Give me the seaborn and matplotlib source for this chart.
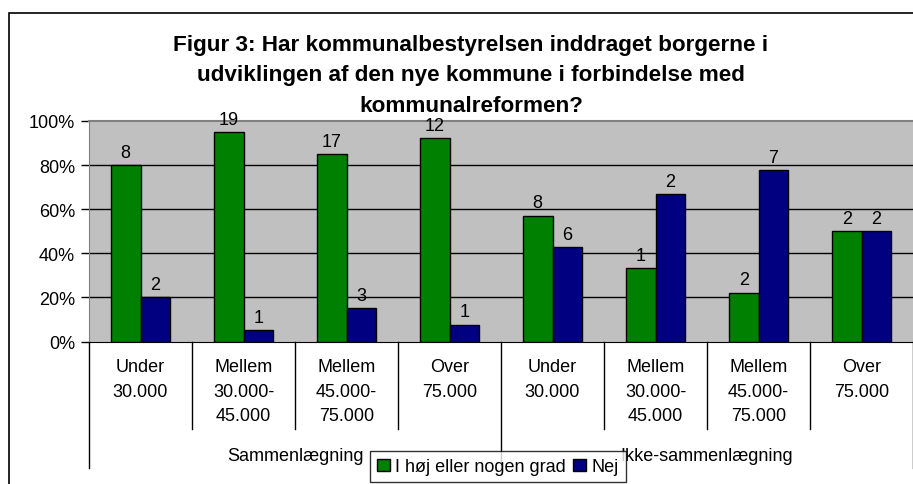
import pandas as pd
import matplotlib.pyplot as plt
import seaborn as sns
from matplotlib.patches import Patch, Rectangle
from matplotlib.lines import Line2D
from matplotlib.ticker import PercentFormatter

# --- Data ---
groups = ['Sammenlægning', 'Ikke-sammenlægning']
sizes = ['Under\n30.000', 'Mellem\n30.000-\n45.000', 'Mellem\n45.000-\n75.000', 'Over\n75.000']
series = ['I høj eller nogen grad', 'Nej']
title_lines = ['Figur 3: Har kommunalbestyrelsen inddraget borgerne i',
               'udviklingen af den nye kommune i forbindelse med',
               'kommunalreformen?']

# share of answers (bar height) and number of answers (label) per category
share_yes = [0.80, 0.95, 0.85, 0.923, 0.571, 0.333, 0.222, 0.50]
share_no = [0.20, 0.05, 0.15, 0.077, 0.429, 0.667, 0.778, 0.50]
count_yes = [8, 19, 17, 12, 8, 1, 2, 2]
count_no = [2, 1, 3, 1, 6, 2, 7, 2]

colors = ['#008000', '#000080']

# --- Build long table ---
cats = [f'{g}|{s}' for g in groups for s in sizes]
df = pd.DataFrame({
    'cat': cats * 2,
    'share': share_yes + share_no,
    'series': [series[0]] * len(cats) + [series[1]] * len(cats),
})

plt.rcParams['font.family'] = ['Liberation Sans', 'DejaVu Sans']
fs = 13

fig = plt.figure(figsize=(9.13, 4.85), dpi=100)
W, H = 913, 485
ax = fig.add_axes([89 / W, (H - 342.5) / H, 1 - 89 / W, 220.5 / H])

sns.barplot(data=df, x='cat', y='share', hue='series', order=cats,
            hue_order=series, palette=colors, width=0.573, gap=0,
            edgecolor='black', linewidth=1, saturation=1, legend=False, ax=ax)

ax.set_facecolor('#c0c0c0')
ax.set_ylim(0, 1)
ax.set_xlim(-0.5, len(cats) - 0.5)
ax.set_yticks([0, 0.2, 0.4, 0.6, 0.8, 1.0])
ax.yaxis.set_major_formatter(PercentFormatter(1.0, decimals=0))
ax.tick_params(axis='y', labelsize=fs, length=6, width=1, color='black', pad=4)
ax.tick_params(axis='x', length=0, labelbottom=False)
ax.set_xlabel('')
ax.set_ylabel('')
for y in [0.2, 0.4, 0.6, 0.8]:
    ax.axhline(y, color='black', lw=1, zorder=0.5)
ax.set_axisbelow(True)
ax.spines['right'].set_visible(False)
ax.spines['top'].set_color('#808080')
ax.spines['top'].set_linewidth(1.5)
ax.spines['left'].set_color('#808080')
ax.spines['bottom'].set_color('black')

# count labels above bars
for cont, counts in zip(ax.containers, [count_yes, count_no]):
    ax.bar_label(cont, labels=[str(c) for c in counts], padding=3, fontsize=fs)

# --- multi-level category axis ---
def yfrac(py):
    return (342.5 - py) / 220.5

tr = ax.get_xaxis_transform()
n = len(cats)
for k in range(n + 1):
    x = k - 0.5
    end = 469 if k % len(sizes) == 0 else 430
    ax.add_line(Line2D([x, x], [0, yfrac(end)], transform=tr, color='black',
                       lw=1, clip_on=False))
line_y = [368, 393, 417]
for i, c in enumerate(cats):
    for j, part in enumerate(c.split('|')[1].split('\n')):
        ax.text(i, yfrac(line_y[j]), part, transform=tr, ha='center',
                va='center', fontsize=fs)
for gi, g in enumerate(groups):
    xc = gi * len(sizes) + (len(sizes) - 1) / 2
    ax.text(xc, yfrac(457), g, transform=tr, ha='center', va='center', fontsize=fs)

# --- title (one text per line) ---
for line, py in zip(title_lines, [45, 76, 106]):
    fig.text(471 / W, 1 - py / H, line, ha='center', va='center',
             fontsize=16.2, fontweight='bold')

# --- legend ---
handles = [Patch(facecolor=c, edgecolor='black', lw=1) for c in colors]
leg = fig.legend(handles, series, loc='upper left',
                 bbox_to_anchor=(370 / W, 1 - 452 / H), ncol=2, fontsize=fs,
                 frameon=True, fancybox=False, edgecolor='black',
                 handlelength=0.7, handleheight=0.7, handletextpad=0.3,
                 columnspacing=0.4, borderpad=0.4, borderaxespad=0)
leg.get_frame().set_linewidth(1)

# outer chart frame
fig.add_artist(Rectangle((9 / W, -0.1), 2, (H - 14) / H + 0.1, fill=False,
                         edgecolor='black', lw=1.2, transform=fig.transFigure))

fig.savefig('out.png', dpi=100)
